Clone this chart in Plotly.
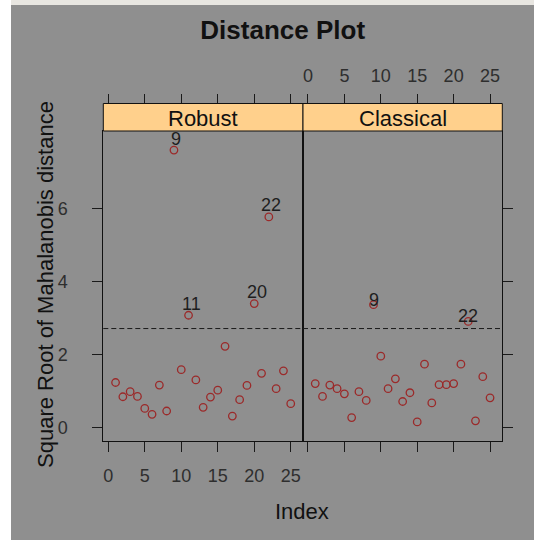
import plotly.graph_objects as go

# ---------------- data ----------------
index = list(range(1, 26))
robust = [1.24, 0.85, 0.99, 0.86, 0.53, 0.37, 1.17, 0.46, 7.60, 1.59,
          3.08, 1.31, 0.56, 0.84, 1.03, 2.23, 0.32, 0.77, 1.16, 3.40,
          1.49, 5.77, 1.07, 1.56, 0.66]
classical = [1.21, 0.86, 1.17, 1.07, 0.93, 0.28, 0.99, 0.75, 3.37, 1.96,
             1.07, 1.34, 0.72, 0.96, 0.16, 1.74, 0.68, 1.18, 1.18, 1.21,
             1.74, 2.91, 0.19, 1.40, 0.82]
panels = ["Robust", "Classical"]
cutoff = 2.716
x_ticks = [0, 5, 10, 15, 20, 25]
y_ticks = [0, 2, 4, 6]

# ---------------- layout helpers ----------------
W, H = 534, 540
def fx(px):
    return px / W
def fy(py):
    return 1 - py / H

BG = "#8f8f8f"
STRIP = "#ffd08c"
PT = "#9b2a2a"
FONT = "Liberation Sans, Arial, sans-serif"

# axis ranges (lattice-style 7% padding)
xmin, xmax = min(index), max(index)
xpad = 0.07 * (xmax - xmin)
xr = [xmin - xpad, xmax + xpad]
allv = robust + classical
ymin, ymax = min(allv), max(allv)
ypad = 0.07 * (ymax - ymin)
yr = [ymin - ypad, ymax + ypad]

L, M, R = 103.3, 303.0, 502.3
TOP_STRIP, TOP_PANEL, BOT_PANEL = 103.5, 131.0, 441.0

fig = go.Figure()
series = [robust, classical]
axes = [("x", "y"), ("x2", "y2")]
for name, vals, (xa, ya) in zip(panels, series, axes):
    fig.add_trace(go.Scatter(
        x=index, y=vals, xaxis=xa, yaxis=ya, mode="markers", name=name,
        marker=dict(symbol="circle-open", size=7.5, color=PT, line=dict(width=1.3, color=PT)),
        showlegend=False, hoverinfo="skip"))
# invisible helpers for top tick axes
fig.add_trace(go.Scatter(x=[None], y=[None], xaxis="x3", yaxis="y", showlegend=False, hoverinfo="skip"))
fig.add_trace(go.Scatter(x=[None], y=[None], xaxis="x4", yaxis="y2", showlegend=False, hoverinfo="skip"))

tickfont = dict(family=FONT, size=18, color="#2e2e2e")
common_x = dict(range=xr, tickvals=x_ticks, ticks="outside", ticklen=10, tickwidth=1,
                tickcolor="#1a1a1a", showgrid=False, zeroline=False, tickfont=tickfont)
common_y = dict(range=yr, tickvals=y_ticks, ticks="outside", ticklen=10, tickwidth=1,
                tickcolor="#1a1a1a", showgrid=False, zeroline=False, tickfont=tickfont,
                showline=True, mirror=True, linecolor="#111", linewidth=1)

fig.update_layout(
    width=W, height=H, margin=dict(l=0, r=0, t=0, b=0),
    paper_bgcolor=BG, plot_bgcolor=BG,
    font=dict(family=FONT),
    xaxis=dict(domain=[fx(L), fx(M)], anchor="y", showline=True, mirror=True,
               linecolor="#111", linewidth=1, ticklabelstandoff=8, **common_x),
    xaxis2=dict(domain=[fx(M), fx(R)], anchor="y2", showline=True, mirror=True,
                linecolor="#111", linewidth=1, showticklabels=False, **common_x),
    xaxis3=dict(overlaying="x", anchor="free", position=fy(TOP_STRIP), side="top",
                showticklabels=False, **common_x),
    xaxis4=dict(overlaying="x2", anchor="free", position=fy(TOP_STRIP), side="top",
                ticklabelstandoff=4, **common_x),
    yaxis=dict(domain=[fy(BOT_PANEL), fy(TOP_PANEL)], anchor="x", ticklabelstandoff=21, **common_y),
    yaxis2=dict(domain=[fy(BOT_PANEL), fy(TOP_PANEL)], anchor="x2", side="right",
                matches="y", showticklabels=False, **common_y),
    title=dict(text="<b>Distance Plot</b>", x=fx(282.7), y=fy(29.5), xref="paper", yref="paper",
               xanchor="center", yanchor="middle",
               font=dict(family=FONT, size=26, color="#111")),
)

shapes = [
    # light frame around the grey canvas
    dict(type="rect", xref="paper", yref="paper", x0=0, x1=fx(11), y0=0, y1=1,
         fillcolor="#ffffff", line=dict(width=0), layer="below"),
    dict(type="rect", xref="paper", yref="paper", x0=fx(11), x1=1, y0=fy(5), y1=1,
         fillcolor="#e8e6e1", line=dict(width=0), layer="below"),
]
# strips
for (x0, x1) in [(L, M), (M, R)]:
    shapes.append(dict(type="rect", xref="paper", yref="paper", x0=fx(x0), x1=fx(x1),
                       y0=fy(TOP_PANEL), y1=fy(TOP_STRIP), fillcolor=STRIP,
                       line=dict(color="#111", width=1)))
# cutoff lines
for xa, ya in axes:
    shapes.append(dict(type="line", xref=f"{xa} domain", yref=ya, x0=0, x1=1, y0=cutoff, y1=cutoff,
                       line=dict(color="#1a1a1a", width=1, dash="5px,3px")))
fig.update_layout(shapes=shapes)

ann = []
for name, (x0, x1) in zip(panels, [(L, M), (M, R)]):
    ann.append(dict(text=name, xref="paper", yref="paper", x=fx((x0 + x1) / 2),
                    y=fy((TOP_STRIP + TOP_PANEL) / 2 + 1), showarrow=False,
                    xanchor="center", yanchor="middle",
                    font=dict(family=FONT, size=22, color="#111")))
# outlier labels
shifts = [(2.5, 11.5), (0, 5)]
for vals, (xa, ya), (xs, ys) in zip(series, axes, shifts):
    for i, v in zip(index, vals):
        if v > cutoff:
            ann.append(dict(text=str(i), x=i, y=v, xref=xa, yref=ya, showarrow=False,
                            xshift=xs, yshift=ys, xanchor="center", yanchor="middle",
                            font=dict(family=FONT, size=18, color="#1e1e1e")))
ann.append(dict(text="Index", xref="paper", yref="paper", x=fx(301.7), y=fy(511),
                showarrow=False, xanchor="center", yanchor="middle",
                font=dict(family=FONT, size=22, color="#111")))
ann.append(dict(text="Square Root of Mahalanobis distance", xref="paper", yref="paper",
                x=fx(45), y=fy(285), textangle=-90, showarrow=False,
                xanchor="center", yanchor="middle",
                font=dict(family=FONT, size=22, color="#111")))
fig.update_layout(annotations=ann)

fig.write_html("out.html", post_script="document.body.style.margin='0';",
               config={"displayModeBar": False})
